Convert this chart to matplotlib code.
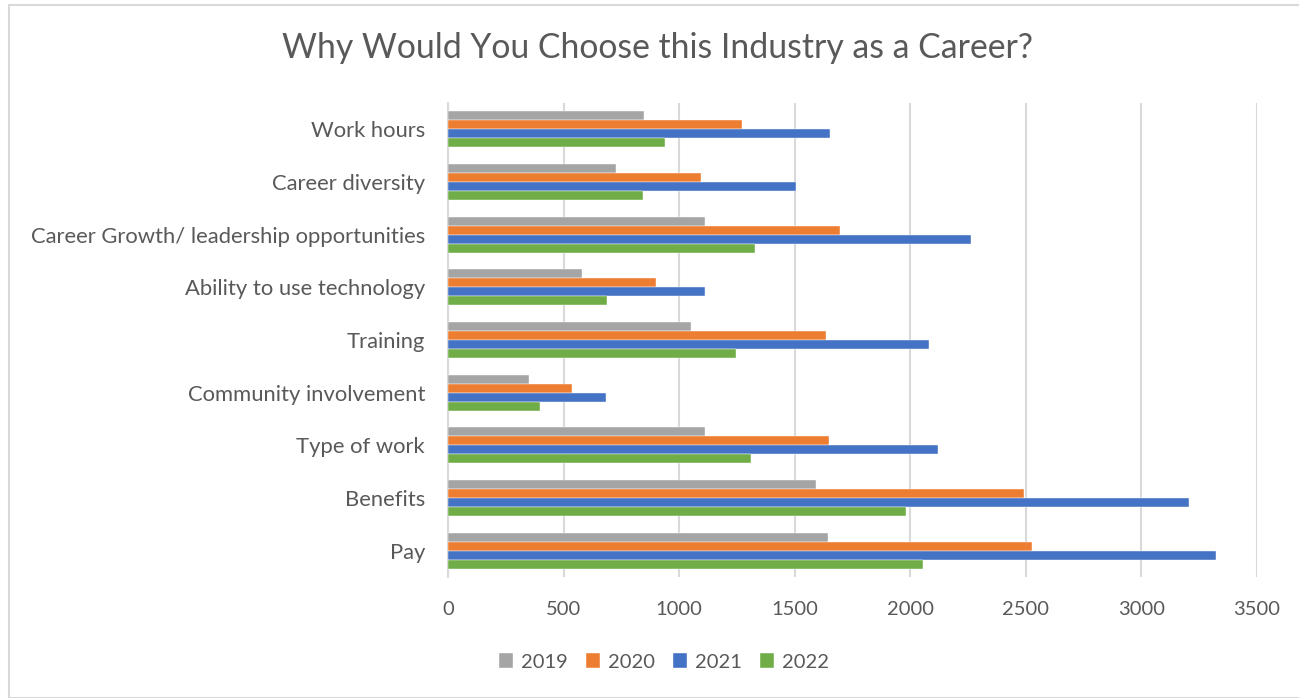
import matplotlib
matplotlib.use("Agg")
import matplotlib.pyplot as plt
import numpy as np
from matplotlib.patches import Rectangle

plt.rcParams['font.family'] = ['Lato', 'DejaVu Sans']

categories = [
    "Work hours",
    "Career diversity",
    "Career Growth/ leadership opportunities",
    "Ability to use technology",
    "Training",
    "Community involvement",
    "Type of work",
    "Benefits",
    "Pay",
]
years = ["2019", "2020", "2021", "2022"]
values_2019 = [848, 727, 1110, 581, 1052, 350, 1111, 1592, 1645]
values_2020 = [1270, 1094, 1697, 900, 1634, 538, 1647, 2490, 2526]
values_2021 = [1653, 1506, 2264, 1111, 2079, 684, 2121, 3206, 3322]
values_2022 = [938, 845, 1327, 688, 1244, 400, 1311, 1983, 2054]
series = [values_2019, values_2020, values_2021, values_2022]
colors = ["#A5A5A5", "#ED7D31", "#4472C4", "#70AD47"]
text_color = "#595959"

W, H = 1299, 698
fig = plt.figure(figsize=(W / 100, H / 100), dpi=100)
fig.patch.set_facecolor("white")

# outer chart frame
fig.patches.append(Rectangle((8.5 / W, 0), 1, 1 - 4.5 / H, transform=fig.transFigure,
                             fill=False, edgecolor="#D9D9D9", linewidth=1.5))

left, right, top, bottom = 448, 1257, 103, 577
ax = fig.add_axes([left / W, 1 - bottom / H, (right - left) / W, (bottom - top) / H])

n = len(categories)
y = np.arange(n)
bar_h = 0.17
for i, (vals, col, yr) in enumerate(zip(series, colors, years)):
    offs = (i - 1.5) * bar_h
    ax.barh(y + offs, vals, height=bar_h, color=col, label=yr, zorder=3,
            edgecolor="white", linewidth=0.3)

ax.set_ylim(n - 0.5, -0.5)
ax.set_xlim(0, 3500)
ax.set_xticks(np.arange(0, 3501, 500))
ax.set_yticks(y)
ax.set_yticklabels(categories)
ax.grid(axis="x", color="#D9D9D9", linewidth=1.5, zorder=0)
ax.tick_params(axis="both", length=0, labelcolor=text_color)
ax.tick_params(axis="y", pad=16.5, labelsize=15.8)
ax.tick_params(axis="x", pad=17, labelsize=14.5)
for s in ["top", "right", "bottom"]:
    ax.spines[s].set_visible(False)
ax.spines["left"].set_color("#D9D9D9")
ax.spines["left"].set_linewidth(1.5)

fig.text(658 / W, 1 - 48 / H, "Why Would You Choose this Industry as a Career?",
         ha="center", va="center", fontsize=24.3, color=text_color)

leg = fig.legend(loc="center", bbox_to_anchor=(664 / W, 1 - 662 / H), ncol=4,
                 frameon=False, fontsize=14.5, handlelength=0.7, handleheight=0.7,
                 handletextpad=0.4, columnspacing=0.9)
for t in leg.get_texts():
    t.set_color(text_color)

fig.savefig("out.png", dpi=100)
